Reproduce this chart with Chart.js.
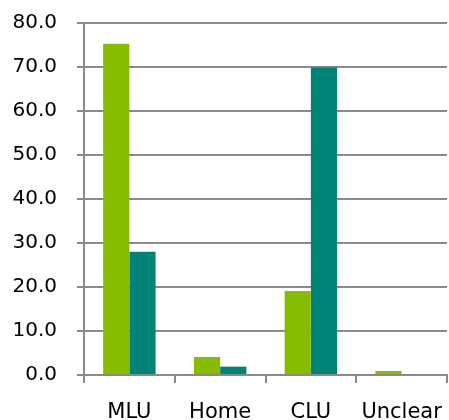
<!DOCTYPE html>
<html>
<head>
<meta charset="utf-8">
<script src="https://cdn.jsdelivr.net/npm/chart.js@4"></script>
<style>
html,body{margin:0;padding:0;background:#fff;}
#wrap{width:449px;height:420px;position:relative;}
</style>
</head>
<body>
<div id="wrap"><canvas id="c" width="449" height="420"></canvas></div>
<script>
const categories = ["MLU", "Home", "CLU", "Unclear"];
const seriesA = [75.3, 4.1, 19.1, 0.9];
const seriesB = [28.0, 1.9, 69.9, 0];
const yTicks = [0, 10, 20, 30, 40, 50, 60, 70, 80];

new Chart(document.getElementById('c'), {
  type: 'bar',
  data: {
    labels: categories,
    datasets: [
      {data: seriesA, backgroundColor: '#86bc00', borderWidth: 0, barPercentage: 1, categoryPercentage: 0.578},
      {data: seriesB, backgroundColor: '#00847a', borderWidth: 0, barPercentage: 1, categoryPercentage: 0.578}
    ]
  },
  options: {
    responsive: false,
    animation: false,
    layout: {padding: {top: 23, right: 2, left: 0, bottom: 0}},
    plugins: {legend: {display: false}, tooltip: {enabled: false}},
    scales: {
      x: {
        offset: true,
        grid: {offset: true, drawOnChartArea: false, drawTicks: true, tickLength: 8, color: '#8a8a8a', lineWidth: 2},
        border: {display: true, color: '#8a8a8a', width: 2},
        ticks: {color: '#000', font: {family: "DejaVu Sans", size: 21}, padding: 17, maxRotation: 0},
        afterFit: s => { s.height = 45; s.paddingLeft = 0; s.paddingRight = 0; s.paddingTop = 0; s.paddingBottom = 0; }
      },
      y: {
        min: 0, max: 80,
        afterBuildTicks: s => { s.ticks = yTicks.map(v => ({value: v})); },
        grid: {color: '#8a8a8a', lineWidth: 2, tickLength: 7},
        border: {display: true, color: '#8a8a8a', width: 2},
        ticks: {color: '#000', font: {family: "DejaVu Sans", size: 20}, padding: 20, callback: v => Number(v).toFixed(1)},
        afterFit: s => { s.width = 84; s.paddingTop = 0; s.paddingBottom = 0; s.paddingLeft = 0; s.paddingRight = 0; }
      }
    }
  }
});
</script>
</body>
</html>
